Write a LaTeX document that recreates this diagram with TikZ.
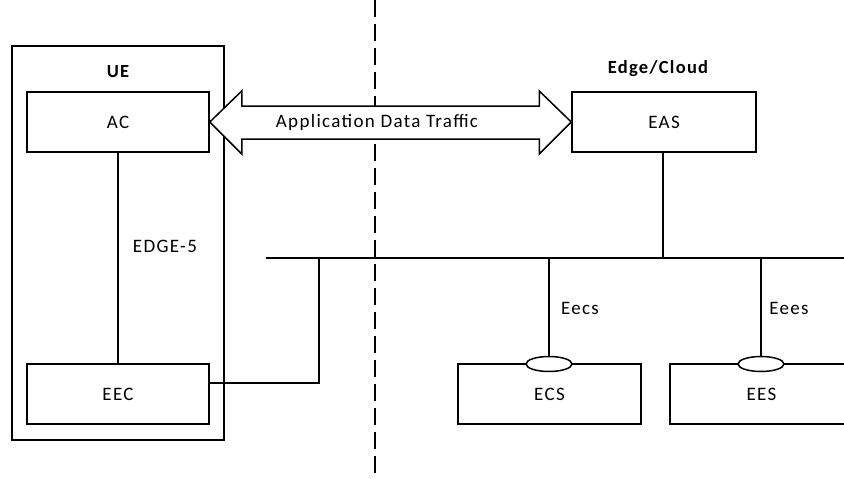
\documentclass[tikz,border=0pt]{standalone}
\usepackage{fontspec}
\setmainfont{Carlito}[LetterSpace=7]
\usetikzlibrary{shapes.geometric,calc}
\begin{document}
\begin{tikzpicture}[x=1pt,y=-1pt,
  every node/.style={font=\fontsize{19}{22}\selectfont},
  box/.style={draw,line width=1.5pt,rectangle,minimum width=182pt,minimum height=60pt,inner sep=0pt},
  outer/.style={draw,line width=1.5pt,rectangle,minimum width=212pt,minimum height=394pt,inner sep=0pt},
  link/.style={line width=1.5pt},
  port/.style={draw,line width=1.5pt,fill=white,ellipse,minimum width=46pt,minimum height=15pt,inner sep=0pt},
  lbl/.style={inner sep=0pt},
  title/.style={inner sep=0pt,font=\fontsize{18.5}{21}\selectfont\bfseries}]
\useasboundingbox (0,0) rectangle (844,479);
\clip (0,0) rectangle (844,479);
% divider
\draw[line width=1.5pt,dash pattern=on 17pt off 7pt] (375,0) -- (375,479);
% UE
\node[outer] (ue) at (118,243) {};
\node[title] (uet) at (118,72) {UE};
\node[box] (ac) at (118,122) {AC};
\node[box] (eec) at (118,394) {EEC};
\draw[link] (ac.south) -- (eec.north);
\node[lbl] (e5) at (165,246) {EDGE-5};
% Edge / Cloud
\node[title] (ect) at (658,69) {Edge/Cloud};
\node[box,minimum width=184pt] (eas) at (664,122) {EAS};
\node[box,minimum width=183pt] (ecs) at (549.5,394) {ECS};
\node[box,minimum width=183pt] (ees) at (761.5,394) {EES};
\node[port] (pecs) at (549,364) {};
\node[port] (pees) at (761,364) {};
% bus
\coordinate (busl) at (266,258);
\coordinate (busr) at (844,258);
\draw[link] (busl) -- (busr);
\coordinate (beas) at (663,258);
\coordinate (beec) at (319,258);
\coordinate (becs) at (549,258);
\coordinate (bees) at (761,258);
\draw[link] (eas.south -| beas) -- (beas);
\draw[link] (eec.east |- 0,383) -| (beec);
\draw[link] (pecs.north) -- (becs);
\draw[link] (pees.north) -- (bees);
\node[lbl] (lecs) at (580,308) {Eecs};
\node[lbl] (lees) at (789,308) {Eees};
% application traffic
\draw[link,fill=white,line join=miter]
  (ac.east) -- ($(ac.east)+(32,-31)$) -- ($(ac.east)+(32,-16)$)
  -- ($(eas.west)+(-32,-16)$) -- ($(eas.west)+(-32,-31)$) -- (eas.west)
  -- ($(eas.west)+(-32,32)$) -- ($(eas.west)+(-32,17)$)
  -- ($(ac.east)+(32,17)$) -- ($(ac.east)+(32,32)$) -- cycle;
\node[lbl] (adtt) at (377,122) {Application Data Traffic};
\end{tikzpicture}
\end{document}
